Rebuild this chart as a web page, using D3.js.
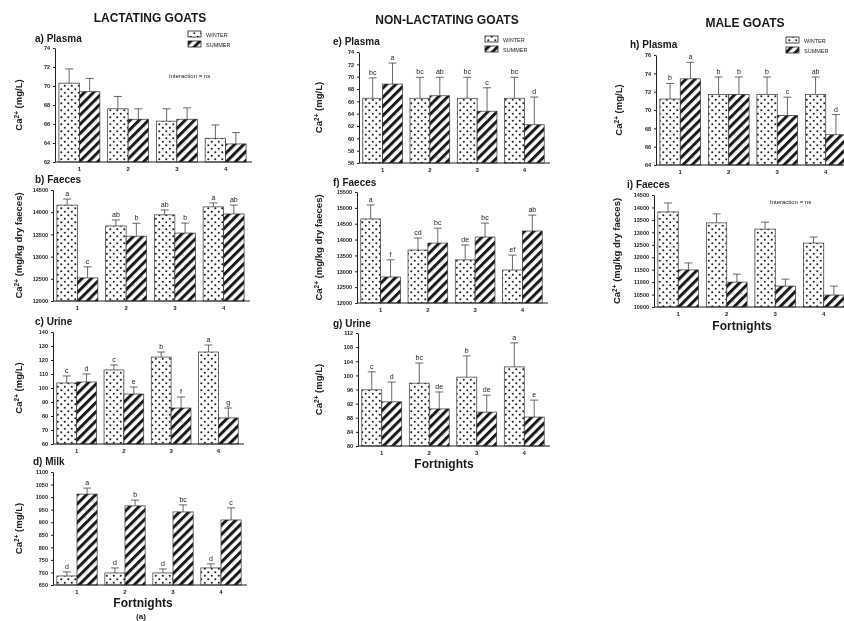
<!DOCTYPE html>
<html>
<head>
<meta charset="utf-8">
<script src="https://cdn.jsdelivr.net/npm/d3@7"></script>
<style>
  body { margin: 0; background: #fff; }
  svg { font-family: "Liberation Sans", Arial, sans-serif; }
  .txt { opacity: 0.999; }
  .title { font-size: 12px; font-weight: bold; fill: #1a1a1a; text-anchor: middle; }
  .plabel { font-size: 10px; font-weight: bold; fill: #1a1a1a; }
  .ylab { font-size: 9.5px; font-weight: bold; fill: #222; text-anchor: middle; }
  .tick text { font-size: 5.5px; font-weight: bold; fill: #222; }
  .xt { font-size: 6px; font-weight: bold; fill: #222; text-anchor: middle; }
  .letter { font-size: 7px; fill: #222; text-anchor: middle; }
  .note { font-size: 6px; fill: #222; }
  .leg { font-size: 5.5px; fill: #222; }
  .xlab { font-size: 12px; font-weight: bold; fill: #1a1a1a; text-anchor: middle; }
  .fig { font-size: 8px; font-weight: bold; fill: #1a1a1a; text-anchor: middle; }
  .bar { stroke: #333; stroke-width: 0.7px; }
  .err { stroke: #444; stroke-width: 0.8px; }
</style>
</head>
<body>
<svg id="chart" width="844" height="621"></svg>
<script>
const fortnights = ["1", "2", "3", "4"];

// lactating goats
const lactPlasmaTicks = [62, 64, 66, 68, 70, 72, 74];
const lactPlasmaWinter = [70.3, 67.6, 66.3, 64.5];
const lactPlasmaWinterSE = [1.5, 1.3, 1.3, 1.4];
const lactPlasmaSummer = [69.4, 66.5, 66.5, 63.9];
const lactPlasmaSummerSE = [1.4, 1.1, 1.2, 1.2];

const lactFaecesTicks = [12000, 12500, 13000, 13500, 14000, 14500];
const lactFaecesWinter = [14160, 13690, 13940, 14120];
const lactFaecesWinterSE = [135, 135, 110, 90];
const lactFaecesSummer = [12520, 13460, 13530, 13960];
const lactFaecesSummerSE = [250, 290, 225, 200];
const lactFaecesWinterLetters = ["a", "ab", "ab", "a"];
const lactFaecesSummerLetters = ["c", "b", "b", "ab"];

const lactUrineTicks = [60, 70, 80, 90, 100, 110, 120, 130, 140];
const lactUrineWinter = [103.6, 112.9, 122.1, 125.7];
const lactUrineWinterSE = [5.0, 3.5, 3.6, 5.0];
const lactUrineSummer = [104.3, 95.7, 85.7, 78.6];
const lactUrineSummerSE = [5.7, 5.0, 7.9, 7.1];
const lactUrineWinterLetters = ["c", "c", "b", "a"];
const lactUrineSummerLetters = ["d", "e", "f", "g"];

const milkTicks = [650, 700, 750, 800, 850, 900, 950, 1000, 1050, 1100];
const milkWinter = [686, 698, 698, 718];
const milkWinterSE = [16, 20, 16, 16];
const milkSummer = [1012, 965, 941, 909];
const milkSummerSE = [24, 23, 28, 48];
const milkWinterLetters = ["d", "d", "d", "d"];
const milkSummerLetters = ["a", "b", "bc", "c"];

// non-lactating goats
const nonPlasmaTicks = [56, 58, 60, 62, 64, 66, 68, 70, 72, 74];
const nonPlasmaWinter = [66.5, 66.5, 66.5, 66.5];
const nonPlasmaWinterSE = [3.3, 3.4, 3.4, 3.4];
const nonPlasmaSummer = [68.8, 66.9, 64.4, 62.2];
const nonPlasmaSummerSE = [3.4, 3.0, 3.8, 4.5];
const nonPlasmaWinterLetters = ["bc", "bc", "bc", "bc"];
const nonPlasmaSummerLetters = ["a", "ab", "c", "d"];

const nonFaecesTicks = [12000, 12500, 13000, 13500, 14000, 14500, 15000, 15500];
const nonFaecesWinter = [14650, 13670, 13360, 13040];
const nonFaecesWinterSE = [440, 380, 470, 470];
const nonFaecesSummer = [12820, 13890, 14080, 14270];
const nonFaecesSummerSE = [540, 470, 440, 500];
const nonFaecesWinterLetters = ["a", "cd", "de", "ef"];
const nonFaecesSummerLetters = ["f", "bc", "bc", "ab"];

const nonUrineTicks = [80, 84, 88, 92, 96, 100, 104, 108, 112];
const nonUrineWinter = [95.9, 97.8, 99.5, 102.4];
const nonUrineWinterSE = [5.1, 5.7, 6.0, 6.8];
const nonUrineSummer = [92.5, 90.5, 89.6, 88.2];
const nonUrineSummerSE = [5.6, 4.8, 4.8, 4.8];
const nonUrineWinterLetters = ["c", "bc", "b", "a"];
const nonUrineSummerLetters = ["d", "de", "de", "e"];

// male goats
const malePlasmaTicks = [64, 66, 68, 70, 72, 74, 76];
const malePlasmaWinter = [71.2, 71.7, 71.7, 71.7];
const malePlasmaWinterSE = [1.7, 1.9, 1.9, 1.9];
const malePlasmaSummer = [73.4, 71.7, 69.4, 67.3];
const malePlasmaSummerSE = [1.8, 1.9, 2.0, 2.2];
const malePlasmaWinterLetters = ["b", "b", "b", "ab"];
const malePlasmaSummerLetters = ["a", "b", "c", "d"];

const maleFaecesTicks = [10000, 10500, 11000, 11500, 12000, 12500, 13000, 13500, 14000, 14500];
const maleFaecesWinter = [13820, 13380, 13130, 12570];
const maleFaecesWinterSE = [360, 360, 280, 240];
const maleFaecesSummer = [11490, 11000, 10840, 10480];
const maleFaecesSummerSE = [280, 320, 280, 360];

const svg = d3.select("#chart");
const defs = svg.append("defs");

const dots = defs.append("pattern").attr("id", "dots")
  .attr("width", 7).attr("height", 7).attr("patternUnits", "userSpaceOnUse");
dots.append("rect").attr("width", 7).attr("height", 7).attr("fill", "#fff");
dots.append("circle").attr("cx", 1.8).attr("cy", 1.8).attr("r", 1.05).attr("fill", "#222");
dots.append("circle").attr("cx", 5.3).attr("cy", 5.3).attr("r", 1.05).attr("fill", "#222");

const hatch = defs.append("pattern").attr("id", "hatch")
  .attr("width", 6.5).attr("height", 6.5).attr("patternUnits", "userSpaceOnUse")
  .attr("patternTransform", "rotate(45)");
hatch.append("rect").attr("width", 6.5).attr("height", 6.5).attr("fill", "#fff");
hatch.append("rect").attr("width", 3).attr("height", 6.5).attr("fill", "#1a1a1a");

// all text goes in one layer (grey antialiasing for the tiny labels)
const marks = svg.append("g");
const texts = svg.append("g").attr("class", "txt");

function caLabel(x, y, unit) {
  const t = texts.append("text").attr("class", "ylab")
    .attr("transform", `translate(${x},${y}) rotate(-90)`);
  t.append("tspan").text("Ca");
  t.append("tspan").attr("baseline-shift", "super").style("font-size", "6.5px").text("2+");
  t.append("tspan").text(" " + unit);
}

function panel(p) {
  const x = d3.scaleBand().domain(fortnights).range([p.x0, p.x1])
    .paddingInner(0.16).paddingOuter(0.08);
  const xs = d3.scaleBand().domain(["W", "S"]).range([0, x.bandwidth()]);
  const y = d3.scaleLinear().domain([p.ticks[0], p.ticks[p.ticks.length - 1]]).range([p.y1, p.y0]);

  const series = [
    {key: "W", fill: "url(#dots)", vals: p.winter, se: p.winterSE, letters: p.winterLetters},
    {key: "S", fill: "url(#hatch)", vals: p.summer, se: p.summerSE, letters: p.summerLetters}
  ];

  series.forEach(s => {
    fortnights.forEach((f, i) => {
      const bx = x(f) + xs(s.key);
      const cx = bx + xs.bandwidth() / 2;
      const top = s.vals[i] + s.se[i];
      marks.append("line").attr("class", "err")
        .attr("x1", cx).attr("x2", cx).attr("y1", y(s.vals[i])).attr("y2", y(top));
      marks.append("line").attr("class", "err")
        .attr("x1", cx - 4).attr("x2", cx + 4).attr("y1", y(top)).attr("y2", y(top));
      marks.append("rect").attr("class", "bar")
        .attr("x", bx).attr("width", xs.bandwidth())
        .attr("y", y(s.vals[i])).attr("height", p.y1 - y(s.vals[i]))
        .attr("fill", s.fill);
      if (s.letters) {
        texts.append("text").attr("class", "letter")
          .attr("x", cx).attr("y", y(top) - 3).text(s.letters[i]);
      }
    });
  });

  const ya = texts.append("g").attr("transform", `translate(${p.x0},0)`)
    .call(d3.axisLeft(y).tickValues(p.ticks).tickFormat(d3.format("d"))
      .tickSize(2).tickSizeOuter(0).tickPadding(3));
  ya.select(".domain").attr("stroke", "#222");
  ya.selectAll(".tick line").attr("stroke", "#222");

  marks.append("line").attr("x1", p.x0).attr("x2", p.x1 + 2).attr("y1", p.y1).attr("y2", p.y1)
    .attr("stroke", "#222").attr("stroke-width", 1);
  fortnights.forEach(f => {
    texts.append("text").attr("class", "xt")
      .attr("x", x(f) + x.bandwidth() / 2).attr("y", p.y1 + 9).text(f);
  });

  texts.append("text").attr("class", "plabel").attr("x", p.lx).attr("y", p.ly).text(p.label);
  caLabel(p.yl, (p.y0 + p.y1) / 2, p.unit);
}

function legend(x, y) {
  [["url(#dots)", "WINTER"], ["url(#hatch)", "SUMMER"]].forEach((d, i) => {
    marks.append("rect").attr("x", x).attr("y", y + i * 10).attr("width", 13).attr("height", 6)
      .attr("fill", d[0]).attr("stroke", "#222").attr("stroke-width", 0.8);
    texts.append("text").attr("class", "leg").attr("x", x + 18).attr("y", y + i * 10 + 5.5).text(d[1]);
  });
}

// column titles
texts.append("text").attr("class", "title").attr("x", 150).attr("y", 22).text("LACTATING GOATS");
texts.append("text").attr("class", "title").attr("x", 447).attr("y", 24).text("NON-LACTATING GOATS");
texts.append("text").attr("class", "title").attr("x", 745).attr("y", 27).text("MALE GOATS");

panel({label: "a) Plasma", lx: 35, ly: 42, x0: 55, x1: 250, y0: 48, y1: 162, yl: 22, unit: "(mg/L)",
  ticks: lactPlasmaTicks, winter: lactPlasmaWinter, winterSE: lactPlasmaWinterSE,
  summer: lactPlasmaSummer, summerSE: lactPlasmaSummerSE});
panel({label: "b) Faeces", lx: 35, ly: 183, x0: 53, x1: 248, y0: 190, y1: 301, yl: 22, unit: "(mg/kg dry faeces)",
  ticks: lactFaecesTicks, winter: lactFaecesWinter, winterSE: lactFaecesWinterSE,
  summer: lactFaecesSummer, summerSE: lactFaecesSummerSE,
  winterLetters: lactFaecesWinterLetters, summerLetters: lactFaecesSummerLetters});
panel({label: "c) Urine", lx: 35, ly: 325, x0: 53, x1: 242, y0: 332, y1: 444, yl: 22, unit: "(mg/L)",
  ticks: lactUrineTicks, winter: lactUrineWinter, winterSE: lactUrineWinterSE,
  summer: lactUrineSummer, summerSE: lactUrineSummerSE,
  winterLetters: lactUrineWinterLetters, summerLetters: lactUrineSummerLetters});
panel({label: "d) Milk", lx: 33, ly: 465, x0: 53, x1: 245, y0: 472, y1: 585, yl: 22, unit: "(mg/L)",
  ticks: milkTicks, winter: milkWinter, winterSE: milkWinterSE,
  summer: milkSummer, summerSE: milkSummerSE,
  winterLetters: milkWinterLetters, summerLetters: milkSummerLetters});

panel({label: "e) Plasma", lx: 333, ly: 45, x0: 359, x1: 548, y0: 52, y1: 163, yl: 322, unit: "(mg/L)",
  ticks: nonPlasmaTicks, winter: nonPlasmaWinter, winterSE: nonPlasmaWinterSE,
  summer: nonPlasmaSummer, summerSE: nonPlasmaSummerSE,
  winterLetters: nonPlasmaWinterLetters, summerLetters: nonPlasmaSummerLetters});
panel({label: "f) Faeces", lx: 333, ly: 186, x0: 357, x1: 546, y0: 192, y1: 303, yl: 322, unit: "(mg/kg dry faeces)",
  ticks: nonFaecesTicks, winter: nonFaecesWinter, winterSE: nonFaecesWinterSE,
  summer: nonFaecesSummer, summerSE: nonFaecesSummerSE,
  winterLetters: nonFaecesWinterLetters, summerLetters: nonFaecesSummerLetters});
panel({label: "g) Urine", lx: 333, ly: 327, x0: 358, x1: 548, y0: 333, y1: 446, yl: 322, unit: "(mg/L)",
  ticks: nonUrineTicks, winter: nonUrineWinter, winterSE: nonUrineWinterSE,
  summer: nonUrineSummer, summerSE: nonUrineSummerSE,
  winterLetters: nonUrineWinterLetters, summerLetters: nonUrineSummerLetters});

panel({label: "h) Plasma", lx: 630, ly: 48, x0: 656, x1: 850, y0: 55, y1: 165, yl: 622, unit: "(mg/L)",
  ticks: malePlasmaTicks, winter: malePlasmaWinter, winterSE: malePlasmaWinterSE,
  summer: malePlasmaSummer, summerSE: malePlasmaSummerSE,
  winterLetters: malePlasmaWinterLetters, summerLetters: malePlasmaSummerLetters});
panel({label: "i) Faeces", lx: 627, ly: 188, x0: 654, x1: 848, y0: 195, y1: 307, yl: 620, unit: "(mg/kg dry faeces)",
  ticks: maleFaecesTicks, winter: maleFaecesWinter, winterSE: maleFaecesWinterSE,
  summer: maleFaecesSummer, summerSE: maleFaecesSummerSE});

legend(188, 31);
legend(485, 36);
legend(786, 37);

texts.append("text").attr("class", "note").attr("x", 169).attr("y", 78).text("Interaction = ns");
texts.append("text").attr("class", "note").attr("x", 770).attr("y", 204).text("Interaction = ns");

texts.append("text").attr("class", "xlab").attr("x", 143).attr("y", 607).text("Fortnights");
texts.append("text").attr("class", "xlab").attr("x", 444).attr("y", 468).text("Fortnights");
texts.append("text").attr("class", "xlab").attr("x", 742).attr("y", 330).text("Fortnights");
texts.append("text").attr("class", "fig").attr("x", 141).attr("y", 619).text("(a)");
</script>
</body>
</html>
